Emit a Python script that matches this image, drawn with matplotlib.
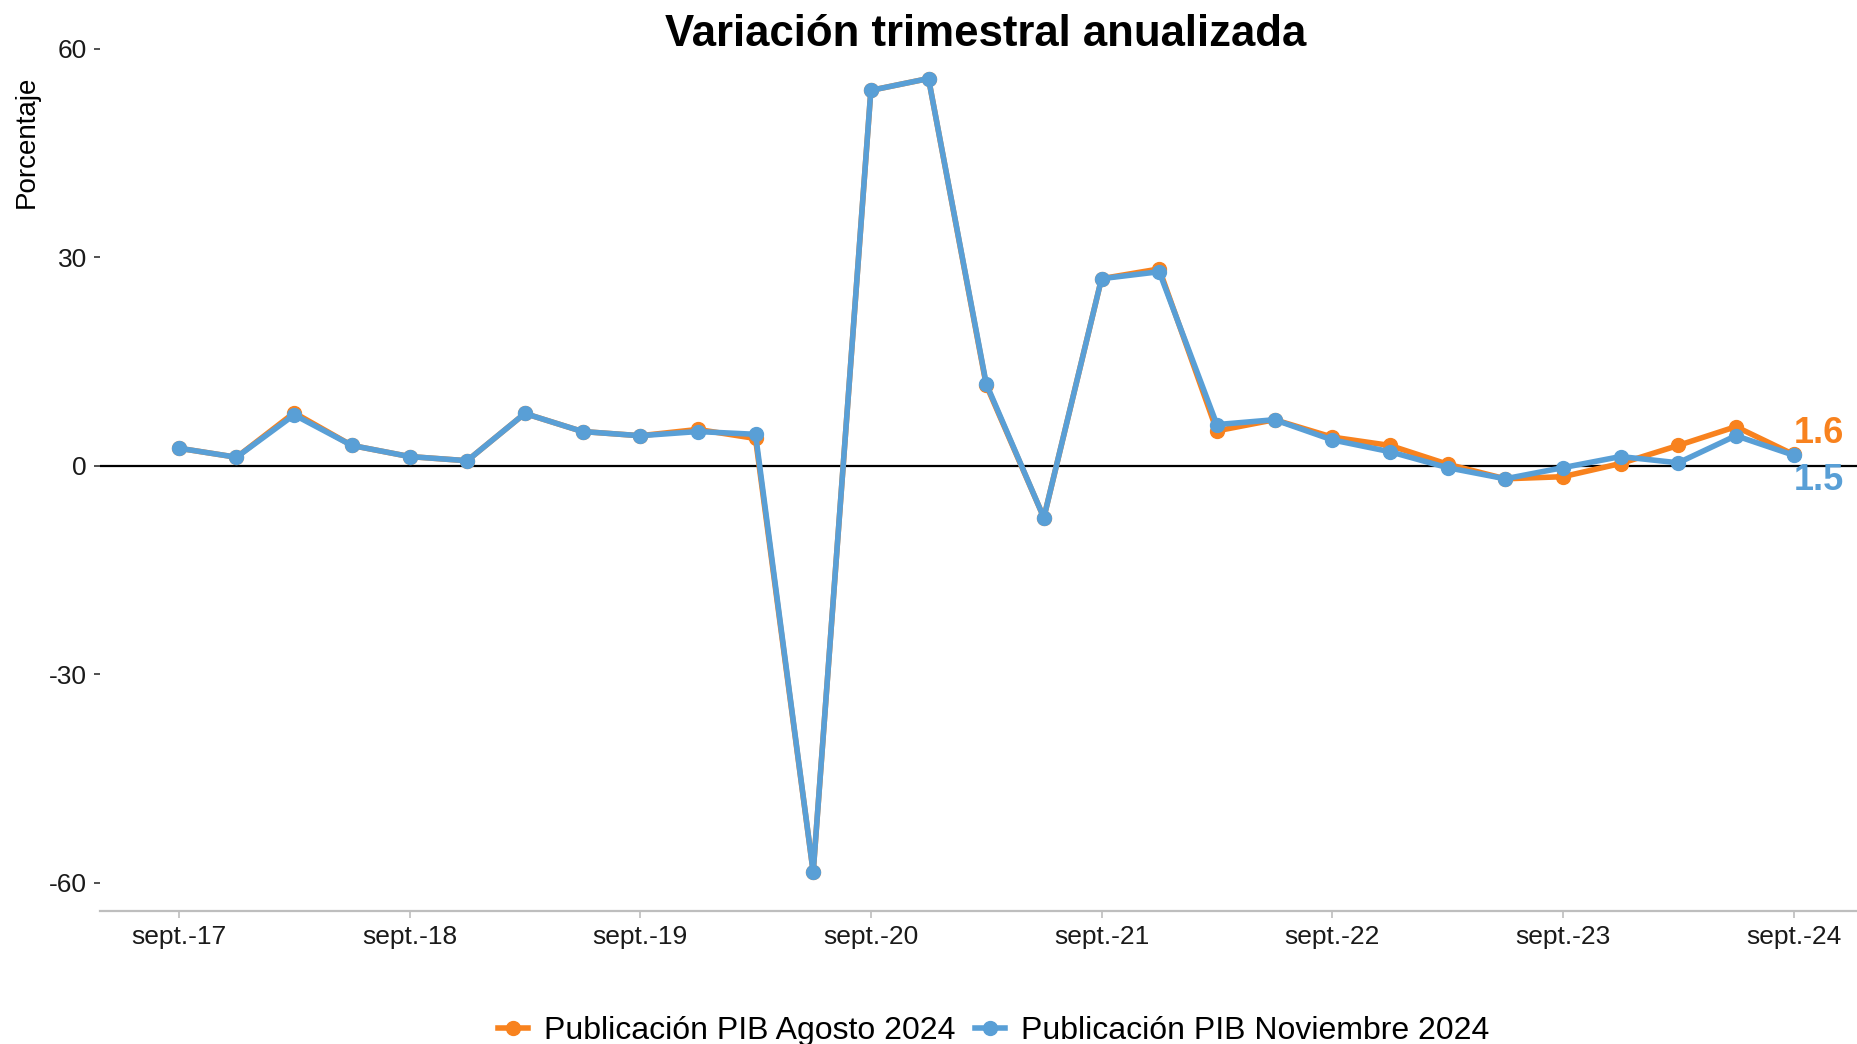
import matplotlib
matplotlib.use("Agg")
import matplotlib.pyplot as plt
from matplotlib.lines import Line2D

plt.rcParams['font.family'] = ['Liberation Sans', 'DejaVu Sans']

# Quarters from sept.-17 to sept.-24
quarters = ["sept.-17", "dic.-17", "mar.-18", "jun.-18", "sept.-18", "dic.-18", "mar.-19", "jun.-19",
            "sept.-19", "dic.-19", "mar.-20", "jun.-20", "sept.-20", "dic.-20", "mar.-21", "jun.-21",
            "sept.-21", "dic.-21", "mar.-22", "jun.-22", "sept.-22", "dic.-22", "mar.-23", "jun.-23",
            "sept.-23", "dic.-23", "mar.-24", "jun.-24", "sept.-24"]

pib_agosto = [2.5, 1.2, 7.6, 2.9, 1.3, 0.7, 7.5, 4.9, 4.3, 5.2, 3.9, -58.5, 54.0, 55.7, 11.6, -7.5,
              26.9, 28.3, 5.0, 6.6, 4.1, 2.9, 0.2, -1.9, -1.6, 0.3, 2.9, 5.6, 1.6]
pib_noviembre = [2.5, 1.2, 7.3, 2.9, 1.3, 0.7, 7.5, 4.9, 4.3, 4.9, 4.5, -58.5, 54.0, 55.7, 11.8, -7.5,
                 26.9, 27.9, 5.9, 6.6, 3.7, 2.0, -0.3, -1.9, -0.3, 1.3, 0.4, 4.3, 1.5]

tick_labels = ["sept.-17", "sept.-18", "sept.-19", "sept.-20", "sept.-21", "sept.-22", "sept.-23", "sept.-24"]
y_ticks = [-60, -30, 0, 30, 60]

series_names = ["Publicación PIB Agosto 2024", "Publicación PIB Noviembre 2024"]
colors = ["#F8821E", "#599FD6"]

x = list(range(len(quarters)))
tick_pos = [quarters.index(t) for t in tick_labels]

fig = plt.figure(figsize=(18.57, 10.44), dpi=100)
ax = fig.add_axes([0.0536, 0.1274, 0.9464, 0.8353])

ax.axhline(0, color="black", lw=1.6, zorder=1)
ax.plot(x, pib_agosto, color=colors[0], lw=4, marker="o", ms=10, zorder=2,
        solid_joinstyle="round", solid_capstyle="round")
ax.plot(x, pib_noviembre, color=colors[1], lw=4, marker="o", ms=10, zorder=3,
        solid_joinstyle="round", solid_capstyle="round")

ax.text(x[-1], pib_agosto[-1] + 3.0, f"{pib_agosto[-1]:.1f}", color=colors[0], fontsize=26,
        fontweight="bold", ha="left", va="center")
ax.text(x[-1], pib_noviembre[-1] - 3.6, f"{pib_noviembre[-1]:.1f}", color=colors[1], fontsize=26,
        fontweight="bold", ha="left", va="center")

ax.set_xlim(-1.375, 29.1)
ax.set_ylim(-64.1, 61.4)
ax.set_xticks(tick_pos)
ax.set_xticklabels(tick_labels, fontsize=19, color="#1a1a1a")
ax.set_yticks(y_ticks)
ax.set_yticklabels([str(v) for v in y_ticks], fontsize=19, color="#1a1a1a")

for s in ["top", "right", "left"]:
    ax.spines[s].set_visible(False)
ax.spines["bottom"].set_color("#BEBEBE")
ax.spines["bottom"].set_linewidth(1.6)
ax.tick_params(axis="x", length=5, width=1.2, color="#BEBEBE", pad=5)
ax.tick_params(axis="y", length=4, width=1.2, color="#333333", pad=5)

ax.set_ylabel("Porcentaje", fontsize=20)
ax.yaxis.set_label_coords(-0.034, 0.882)

fig.text(0.531, 0.9665, "Variación trimestral anualizada", fontsize=31.5, fontweight="bold",
         ha="center", va="center")

handles = [Line2D([0], [0], color=c, lw=4, marker="o", ms=10) for c in colors]
fig.legend(handles, series_names, loc="center", bbox_to_anchor=(0.535, 0.012), ncol=2,
           frameon=False, fontsize=23, handlelength=0.95, handletextpad=0.5,
           columnspacing=0.6, borderaxespad=0, borderpad=0)

fig.savefig("out.png", dpi=100)
